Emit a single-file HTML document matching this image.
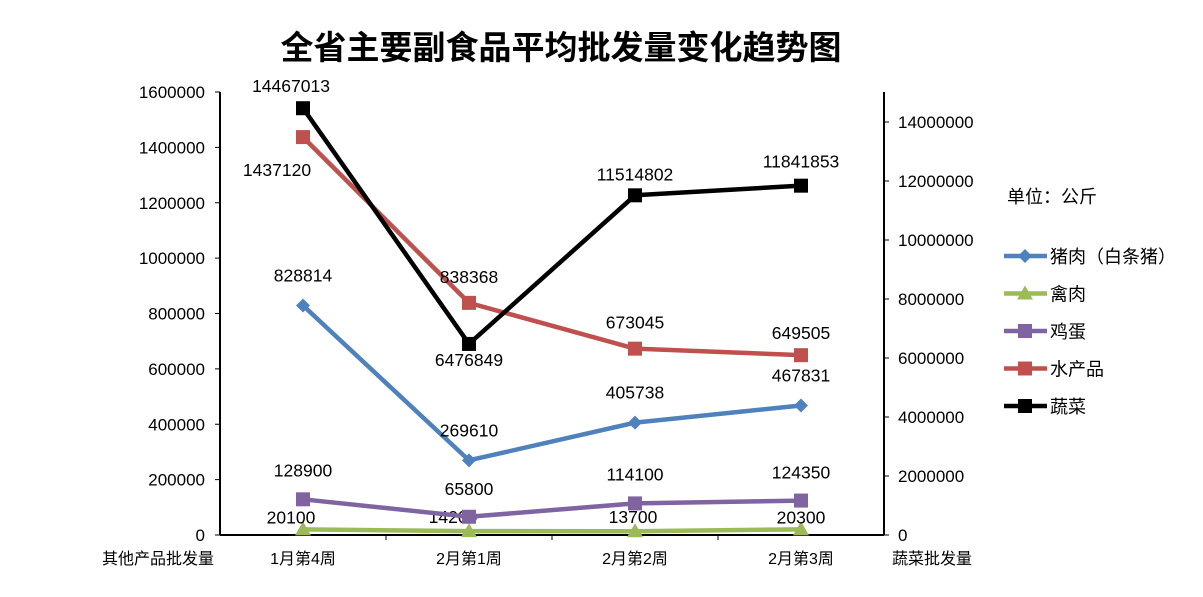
<!DOCTYPE html>
<html><head><meta charset="utf-8"><style>
body{margin:0;background:#fff;}
svg text{font-family:"Liberation Sans","Noto Sans CJK SC",sans-serif;fill:#000;}
</style></head><body>
<svg id="chart" width="1203" height="592" xmlns="http://www.w3.org/2000/svg">
<text x="561" y="59" text-anchor="middle" font-size="33" font-weight="bold">全省主要副食品平均批发量变化趋势图</text>
<g id="axes"></g><g id="series"></g><g id="legend"></g>
</svg>
<script>
const categories=["1月第4周","2月第1周","2月第2周","2月第3周"];
const pork=[828814,269610,405738,467831];
const poultry=[20100,14200,13700,20300];
const egg=[128900,65800,114100,124350];
const aquatic=[1437120,838368,673045,649505];
const veg=[14467013,6476849,11514802,11841853];
const leftTicks=[0,200000,400000,600000,800000,1000000,1200000,1400000,1600000];
const rightTicks=[0,2000000,4000000,6000000,8000000,10000000,12000000,14000000];
const NS="http://www.w3.org/2000/svg";
const X0=220,X1=884,Y0=535;
const yL=v=>Y0-v/1600000*443;
const yR=v=>Y0-v/14000000*413;
const xC=i=>X0+(X1-X0)/categories.length*(i+0.5);
function mk(tag,attrs,parent,text){const e=document.createElementNS(NS,tag);for(const k in attrs)e.setAttribute(k,attrs[k]);if(text!==undefined)e.textContent=text;parent.appendChild(e);return e;}
const axes=document.getElementById('axes'),ser=document.getElementById('series'),leg=document.getElementById('legend');
let a=mk('line',{x1:X0,y1:92,x2:X0,y2:Y0,stroke:'#000','stroke-width':2},axes);


a=mk('line',{x1:X1,y1:92,x2:X1,y2:Y0,stroke:'#000','stroke-width':2},axes);


a=mk('line',{x1:X0,y1:Y0,x2:X1,y2:Y0,stroke:'#000','stroke-width':2},axes);


leftTicks.forEach(v=>{const y=yL(v);mk('line',{x1:X0-5,y1:y,x2:X0,y2:y,stroke:'#000'},axes);
const t=mk('text',{x:X0-15,y:y+6,'text-anchor':'end','font-size':17},axes,String(v));

});
rightTicks.forEach(v=>{const y=yR(v);mk('line',{x1:X1,y1:y,x2:X1+5,y2:y,stroke:'#000'},axes);
const t=mk('text',{x:X1+14,y:y+6,'font-size':17},axes,String(v));

});
for(let i=1;i<categories.length;i++){const x=X0+(X1-X0)/categories.length*i;mk('line',{x1:x,y1:Y0,x2:x,y2:Y0+5,stroke:'#000'},axes);}
categories.forEach((c,i)=>{const t=mk('text',{x:xC(i),y:564,'text-anchor':'middle','font-size':16},axes,c);

});
let t=mk('text',{x:158,y:564,'text-anchor':'middle','font-size':16},axes,'其他产品批发量');


t=mk('text',{x:932,y:564,'text-anchor':'middle','font-size':16},axes,'蔬菜批发量');


function marker(shape,x,y,color,p){
 if(shape==='diamond')return mk('polygon',{points:`${x},${y-7} ${x+7},${y} ${x},${y+7} ${x-7},${y}`,fill:color},p);
 if(shape==='tri')return mk('polygon',{points:`${x},${y-8} ${x+8},${y+6} ${x-8},${y+6}`,fill:color},p);
 return mk('rect',{x:x-7,y:y-7,width:14,height:14,fill:color},p);}
const series=[
 {name:'pork',label:'猪肉（白条猪）',d:pork,c:'#4f81bd',s:'diamond',sc:yL,dy:[-24,-24,-24,-24],dx:[0,0,0,0]},
 {name:'poultry',label:'禽肉',d:poultry,c:'#9bbb59',s:'tri',sc:yL,dy:[-6,-8,-8,-6],dx:[-12,-16,-2,0]},
 {name:'egg',label:'鸡蛋',d:egg,c:'#8064a2',s:'square',sc:yL,dy:[-23,-22,-23,-22],dx:[0,0,0,0]},
 {name:'aquatic',label:'水产品',d:aquatic,c:'#c0504d',s:'square',sc:yL,dy:[39,-20,-20,-16],dx:[-26,0,0,0]},
 {name:'vegetables',label:'蔬菜',d:veg,c:'#000',s:'square',sc:yR,dy:[-16,22,-15,-18],dx:[-12,0,0,0]}];
series.forEach(s=>{
 const g=mk('g',{},ser);
 
 
 const pl=mk('polyline',{points:s.d.map((v,i)=>xC(i)+','+s.sc(v)).join(' '),fill:'none',stroke:s.c,'stroke-width':4.5},g);
 
 
 s.d.forEach((v,i)=>{const m=marker(s.s,xC(i),s.sc(v),s.c,g);
 
 
 const l=mk('text',{x:xC(i)+s.dx[i],y:s.sc(v)+s.dy[i],'text-anchor':'middle','font-size':17.5},g,String(v));
 
 });
});
t=mk('text',{x:1007,y:203,'font-size':18},leg,'单位：公斤');


series.forEach((s,i)=>{const y=256+i*37.5;const g=mk('g',{},leg);
 
 
 mk('line',{x1:1004,y1:y,x2:1047,y2:y,stroke:s.c,'stroke-width':4.5},g);
 marker(s.s,1025,y,s.c,g);
 mk('text',{x:1050,y:y+7,'font-size':18},g,s.label);});
</script>
</body></html>
